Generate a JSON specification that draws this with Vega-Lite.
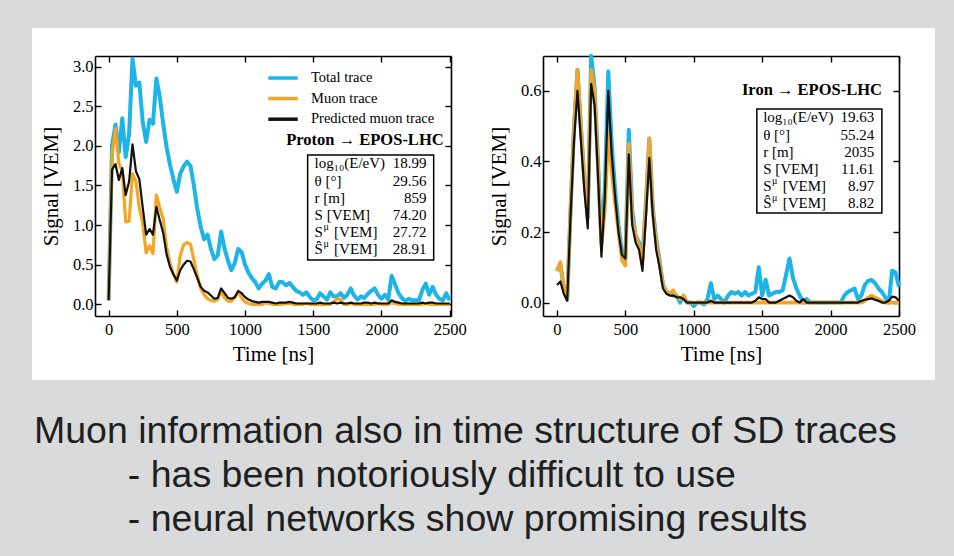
{
  "$schema": "https://vega.github.io/schema/vega-lite/v6.json",
  "width": 903,
  "height": 352,
  "autosize": {"type": "none"},
  "padding": {"left": 32, "top": 28, "right": 19, "bottom": 176},
  "background": "#d9dadc",
  "config": {
    "view": {"fill": "white", "stroke": null},
    "font": "Liberation Serif",
    "axis": {
      "grid": false, "domainColor": "#000", "domainWidth": 1.6,
      "tickColor": "#000", "tickWidth": 1.4, "tickSize": -6,
      "labelFont": "Liberation Serif", "labelFontSize": 16.5, "labelColor": "#000",
      "labelFlush": false, "labelOverlap": false,
      "titleFont": "Liberation Serif", "titleFontSize": 21, "titleFontWeight": "normal", "titleColor": "#000",
      "zindex": 1
    },
    "line": {"strokeJoin": "round"}
  },
  "title": {
    "text": [
      "Muon information also in time structure of SD traces",
      "\u200b\u00a0\u00a0\u00a0\u00a0\u00a0\u00a0\u00a0\u00a0\u00a0- has been notoriously difficult to use",
      "\u200b\u00a0\u00a0\u00a0\u00a0\u00a0\u00a0\u00a0\u00a0\u00a0- neural networks show promising results"
    ],
    "orient": "bottom", "anchor": "start", "frame": "group",
    "font": "Liberation Sans", "fontSize": 37.5, "fontWeight": "normal", "color": "#1f1f1f",
    "lineHeight": 44, "offset": 33, "dx": 2
  },
  "datasets": {
    "proton": [
      {"t":0,"s":"Total trace","v":0.05},{"t":25,"s":"Total trace","v":2.00},{"t":50,"s":"Total trace","v":2.27},{"t":75,"s":"Total trace","v":1.92},{"t":100,"s":"Total trace","v":2.35},{"t":125,"s":"Total trace","v":1.86},{"t":150,"s":"Total trace","v":2.15},{"t":175,"s":"Total trace","v":3.10},{"t":200,"s":"Total trace","v":2.76},{"t":225,"s":"Total trace","v":2.80},{"t":250,"s":"Total trace","v":2.30},{"t":275,"s":"Total trace","v":2.05},{"t":300,"s":"Total trace","v":2.33},{"t":325,"s":"Total trace","v":2.28},{"t":350,"s":"Total trace","v":2.85},{"t":375,"s":"Total trace","v":2.62},{"t":400,"s":"Total trace","v":2.28},{"t":425,"s":"Total trace","v":1.98},{"t":450,"s":"Total trace","v":1.76},{"t":475,"s":"Total trace","v":1.58},{"t":500,"s":"Total trace","v":1.42},{"t":525,"s":"Total trace","v":1.65},{"t":550,"s":"Total trace","v":1.74},{"t":575,"s":"Total trace","v":1.80},{"t":600,"s":"Total trace","v":1.75},{"t":625,"s":"Total trace","v":1.50},{"t":650,"s":"Total trace","v":1.20},{"t":675,"s":"Total trace","v":0.98},{"t":700,"s":"Total trace","v":0.82},{"t":725,"s":"Total trace","v":0.88},{"t":750,"s":"Total trace","v":0.70},{"t":775,"s":"Total trace","v":0.57},{"t":800,"s":"Total trace","v":0.62},{"t":825,"s":"Total trace","v":0.92},{"t":850,"s":"Total trace","v":0.70},{"t":875,"s":"Total trace","v":0.55},{"t":900,"s":"Total trace","v":0.43},{"t":925,"s":"Total trace","v":0.52},{"t":950,"s":"Total trace","v":0.70},{"t":975,"s":"Total trace","v":0.66},{"t":1000,"s":"Total trace","v":0.50},{"t":1025,"s":"Total trace","v":0.40},{"t":1050,"s":"Total trace","v":0.33},{"t":1075,"s":"Total trace","v":0.28},{"t":1100,"s":"Total trace","v":0.20},{"t":1125,"s":"Total trace","v":0.26},{"t":1150,"s":"Total trace","v":0.30},{"t":1175,"s":"Total trace","v":0.38},{"t":1200,"s":"Total trace","v":0.22},{"t":1225,"s":"Total trace","v":0.20},{"t":1250,"s":"Total trace","v":0.28},{"t":1275,"s":"Total trace","v":0.28},{"t":1300,"s":"Total trace","v":0.24},{"t":1325,"s":"Total trace","v":0.27},{"t":1350,"s":"Total trace","v":0.22},{"t":1375,"s":"Total trace","v":0.17},{"t":1400,"s":"Total trace","v":0.15},{"t":1425,"s":"Total trace","v":0.12},{"t":1450,"s":"Total trace","v":0.15},{"t":1475,"s":"Total trace","v":0.09},{"t":1500,"s":"Total trace","v":0.05},{"t":1525,"s":"Total trace","v":0.06},{"t":1550,"s":"Total trace","v":0.14},{"t":1575,"s":"Total trace","v":0.10},{"t":1600,"s":"Total trace","v":0.06},{"t":1625,"s":"Total trace","v":0.15},{"t":1650,"s":"Total trace","v":0.10},{"t":1675,"s":"Total trace","v":0.10},{"t":1700,"s":"Total trace","v":0.14},{"t":1725,"s":"Total trace","v":0.08},{"t":1750,"s":"Total trace","v":0.12},{"t":1775,"s":"Total trace","v":0.20},{"t":1800,"s":"Total trace","v":0.11},{"t":1825,"s":"Total trace","v":0.06},{"t":1850,"s":"Total trace","v":0.10},{"t":1875,"s":"Total trace","v":0.08},{"t":1900,"s":"Total trace","v":0.13},{"t":1925,"s":"Total trace","v":0.17},{"t":1950,"s":"Total trace","v":0.20},{"t":1975,"s":"Total trace","v":0.12},{"t":2000,"s":"Total trace","v":0.07},{"t":2025,"s":"Total trace","v":0.12},{"t":2050,"s":"Total trace","v":0.06},{"t":2075,"s":"Total trace","v":0.36},{"t":2100,"s":"Total trace","v":0.25},{"t":2125,"s":"Total trace","v":0.14},{"t":2150,"s":"Total trace","v":0.08},{"t":2175,"s":"Total trace","v":0.04},{"t":2200,"s":"Total trace","v":0.07},{"t":2225,"s":"Total trace","v":0.05},{"t":2250,"s":"Total trace","v":0.05},{"t":2275,"s":"Total trace","v":0.05},{"t":2300,"s":"Total trace","v":0.18},{"t":2325,"s":"Total trace","v":0.26},{"t":2350,"s":"Total trace","v":0.12},{"t":2375,"s":"Total trace","v":0.22},{"t":2400,"s":"Total trace","v":0.12},{"t":2425,"s":"Total trace","v":0.07},{"t":2450,"s":"Total trace","v":0.05},{"t":2475,"s":"Total trace","v":0.14},{"t":2500,"s":"Total trace","v":0.05},
      {"t":0,"s":"Muon trace","v":0.05},{"t":25,"s":"Muon trace","v":1.88},{"t":50,"s":"Muon trace","v":2.22},{"t":75,"s":"Muon trace","v":1.78},{"t":100,"s":"Muon trace","v":1.68},{"t":125,"s":"Muon trace","v":1.04},{"t":150,"s":"Muon trace","v":1.05},{"t":175,"s":"Muon trace","v":1.65},{"t":200,"s":"Muon trace","v":1.55},{"t":225,"s":"Muon trace","v":1.22},{"t":250,"s":"Muon trace","v":1.02},{"t":275,"s":"Muon trace","v":0.65},{"t":300,"s":"Muon trace","v":0.74},{"t":325,"s":"Muon trace","v":0.64},{"t":350,"s":"Muon trace","v":1.38},{"t":375,"s":"Muon trace","v":1.22},{"t":400,"s":"Muon trace","v":1.08},{"t":425,"s":"Muon trace","v":0.72},{"t":450,"s":"Muon trace","v":0.52},{"t":475,"s":"Muon trace","v":0.38},{"t":500,"s":"Muon trace","v":0.28},{"t":525,"s":"Muon trace","v":0.62},{"t":550,"s":"Muon trace","v":0.75},{"t":575,"s":"Muon trace","v":0.78},{"t":600,"s":"Muon trace","v":0.76},{"t":625,"s":"Muon trace","v":0.56},{"t":650,"s":"Muon trace","v":0.36},{"t":675,"s":"Muon trace","v":0.20},{"t":700,"s":"Muon trace","v":0.12},{"t":725,"s":"Muon trace","v":0.07},{"t":750,"s":"Muon trace","v":0.05},{"t":775,"s":"Muon trace","v":0.04},{"t":800,"s":"Muon trace","v":0.06},{"t":825,"s":"Muon trace","v":0.17},{"t":850,"s":"Muon trace","v":0.08},{"t":875,"s":"Muon trace","v":0.04},{"t":900,"s":"Muon trace","v":0.04},{"t":925,"s":"Muon trace","v":0.09},{"t":950,"s":"Muon trace","v":0.15},{"t":975,"s":"Muon trace","v":0.08},{"t":1000,"s":"Muon trace","v":0.03},{"t":1025,"s":"Muon trace","v":0.01},{"t":1050,"s":"Muon trace","v":0.00},{"t":1075,"s":"Muon trace","v":0.00},{"t":1100,"s":"Muon trace","v":0.00},{"t":1125,"s":"Muon trace","v":0.00},{"t":1150,"s":"Muon trace","v":0.02},{"t":1175,"s":"Muon trace","v":0.01},{"t":1200,"s":"Muon trace","v":0.00},{"t":1225,"s":"Muon trace","v":0.00},{"t":1250,"s":"Muon trace","v":0.00},{"t":1275,"s":"Muon trace","v":0.00},{"t":1300,"s":"Muon trace","v":0.01},{"t":1325,"s":"Muon trace","v":0.01},{"t":1350,"s":"Muon trace","v":0.00},{"t":1375,"s":"Muon trace","v":0.00},{"t":1400,"s":"Muon trace","v":0.00},{"t":1425,"s":"Muon trace","v":0.00},{"t":1450,"s":"Muon trace","v":0.01},{"t":1475,"s":"Muon trace","v":0.00},{"t":1500,"s":"Muon trace","v":0.00},{"t":1525,"s":"Muon trace","v":0.00},{"t":1550,"s":"Muon trace","v":0.00},{"t":1575,"s":"Muon trace","v":0.00},{"t":1600,"s":"Muon trace","v":0.00},{"t":1625,"s":"Muon trace","v":0.00},{"t":1650,"s":"Muon trace","v":0.03},{"t":1675,"s":"Muon trace","v":0.07},{"t":1700,"s":"Muon trace","v":0.06},{"t":1725,"s":"Muon trace","v":0.00},{"t":1750,"s":"Muon trace","v":0.00},{"t":1775,"s":"Muon trace","v":0.01},{"t":1800,"s":"Muon trace","v":0.00},{"t":1825,"s":"Muon trace","v":0.00},{"t":1850,"s":"Muon trace","v":0.00},{"t":1875,"s":"Muon trace","v":0.00},{"t":1900,"s":"Muon trace","v":0.00},{"t":1925,"s":"Muon trace","v":0.00},{"t":1950,"s":"Muon trace","v":0.00},{"t":1975,"s":"Muon trace","v":0.01},{"t":2000,"s":"Muon trace","v":0.00},{"t":2025,"s":"Muon trace","v":0.00},{"t":2050,"s":"Muon trace","v":0.00},{"t":2075,"s":"Muon trace","v":0.02},{"t":2100,"s":"Muon trace","v":0.01},{"t":2125,"s":"Muon trace","v":0.00},{"t":2150,"s":"Muon trace","v":0.00},{"t":2175,"s":"Muon trace","v":0.00},{"t":2200,"s":"Muon trace","v":0.00},{"t":2225,"s":"Muon trace","v":0.00},{"t":2250,"s":"Muon trace","v":0.00},{"t":2275,"s":"Muon trace","v":0.00},{"t":2300,"s":"Muon trace","v":0.00},{"t":2325,"s":"Muon trace","v":0.01},{"t":2350,"s":"Muon trace","v":0.00},{"t":2375,"s":"Muon trace","v":0.00},{"t":2400,"s":"Muon trace","v":0.00},{"t":2425,"s":"Muon trace","v":0.00},{"t":2450,"s":"Muon trace","v":0.00},{"t":2475,"s":"Muon trace","v":0.00},{"t":2500,"s":"Muon trace","v":0.00},
      {"t":0,"s":"Predicted muon trace","v":0.05},{"t":25,"s":"Predicted muon trace","v":1.70},{"t":50,"s":"Predicted muon trace","v":1.77},{"t":75,"s":"Predicted muon trace","v":1.57},{"t":100,"s":"Predicted muon trace","v":1.72},{"t":125,"s":"Predicted muon trace","v":1.38},{"t":150,"s":"Predicted muon trace","v":1.55},{"t":175,"s":"Predicted muon trace","v":2.02},{"t":200,"s":"Predicted muon trace","v":1.68},{"t":225,"s":"Predicted muon trace","v":1.58},{"t":250,"s":"Predicted muon trace","v":1.22},{"t":275,"s":"Predicted muon trace","v":0.88},{"t":300,"s":"Predicted muon trace","v":0.95},{"t":325,"s":"Predicted muon trace","v":0.88},{"t":350,"s":"Predicted muon trace","v":1.23},{"t":375,"s":"Predicted muon trace","v":1.06},{"t":400,"s":"Predicted muon trace","v":0.90},{"t":425,"s":"Predicted muon trace","v":0.63},{"t":450,"s":"Predicted muon trace","v":0.47},{"t":475,"s":"Predicted muon trace","v":0.38},{"t":500,"s":"Predicted muon trace","v":0.30},{"t":525,"s":"Predicted muon trace","v":0.43},{"t":550,"s":"Predicted muon trace","v":0.50},{"t":575,"s":"Predicted muon trace","v":0.55},{"t":600,"s":"Predicted muon trace","v":0.54},{"t":625,"s":"Predicted muon trace","v":0.44},{"t":650,"s":"Predicted muon trace","v":0.33},{"t":675,"s":"Predicted muon trace","v":0.22},{"t":700,"s":"Predicted muon trace","v":0.17},{"t":725,"s":"Predicted muon trace","v":0.15},{"t":750,"s":"Predicted muon trace","v":0.11},{"t":775,"s":"Predicted muon trace","v":0.07},{"t":800,"s":"Predicted muon trace","v":0.08},{"t":825,"s":"Predicted muon trace","v":0.20},{"t":850,"s":"Predicted muon trace","v":0.14},{"t":875,"s":"Predicted muon trace","v":0.08},{"t":900,"s":"Predicted muon trace","v":0.07},{"t":925,"s":"Predicted muon trace","v":0.09},{"t":950,"s":"Predicted muon trace","v":0.17},{"t":975,"s":"Predicted muon trace","v":0.14},{"t":1000,"s":"Predicted muon trace","v":0.09},{"t":1025,"s":"Predicted muon trace","v":0.06},{"t":1050,"s":"Predicted muon trace","v":0.04},{"t":1075,"s":"Predicted muon trace","v":0.03},{"t":1100,"s":"Predicted muon trace","v":0.02},{"t":1125,"s":"Predicted muon trace","v":0.03},{"t":1150,"s":"Predicted muon trace","v":0.03},{"t":1175,"s":"Predicted muon trace","v":0.03},{"t":1200,"s":"Predicted muon trace","v":0.02},{"t":1225,"s":"Predicted muon trace","v":0.01},{"t":1250,"s":"Predicted muon trace","v":0.02},{"t":1275,"s":"Predicted muon trace","v":0.02},{"t":1300,"s":"Predicted muon trace","v":0.02},{"t":1325,"s":"Predicted muon trace","v":0.03},{"t":1350,"s":"Predicted muon trace","v":0.02},{"t":1375,"s":"Predicted muon trace","v":0.01},{"t":1400,"s":"Predicted muon trace","v":0.01},{"t":1425,"s":"Predicted muon trace","v":0.01},{"t":1450,"s":"Predicted muon trace","v":0.01},{"t":1475,"s":"Predicted muon trace","v":0.01},{"t":1500,"s":"Predicted muon trace","v":0.01},{"t":1525,"s":"Predicted muon trace","v":0.01},{"t":1550,"s":"Predicted muon trace","v":0.02},{"t":1575,"s":"Predicted muon trace","v":0.01},{"t":1600,"s":"Predicted muon trace","v":0.01},{"t":1625,"s":"Predicted muon trace","v":0.01},{"t":1650,"s":"Predicted muon trace","v":0.02},{"t":1675,"s":"Predicted muon trace","v":0.01},{"t":1700,"s":"Predicted muon trace","v":0.02},{"t":1725,"s":"Predicted muon trace","v":0.01},{"t":1750,"s":"Predicted muon trace","v":0.01},{"t":1775,"s":"Predicted muon trace","v":0.02},{"t":1800,"s":"Predicted muon trace","v":0.01},{"t":1825,"s":"Predicted muon trace","v":0.01},{"t":1850,"s":"Predicted muon trace","v":0.01},{"t":1875,"s":"Predicted muon trace","v":0.02},{"t":1900,"s":"Predicted muon trace","v":0.02},{"t":1925,"s":"Predicted muon trace","v":0.01},{"t":1950,"s":"Predicted muon trace","v":0.02},{"t":1975,"s":"Predicted muon trace","v":0.01},{"t":2000,"s":"Predicted muon trace","v":0.01},{"t":2025,"s":"Predicted muon trace","v":0.01},{"t":2050,"s":"Predicted muon trace","v":0.01},{"t":2075,"s":"Predicted muon trace","v":0.05},{"t":2100,"s":"Predicted muon trace","v":0.03},{"t":2125,"s":"Predicted muon trace","v":0.02},{"t":2150,"s":"Predicted muon trace","v":0.01},{"t":2175,"s":"Predicted muon trace","v":0.01},{"t":2200,"s":"Predicted muon trace","v":0.01},{"t":2225,"s":"Predicted muon trace","v":0.01},{"t":2250,"s":"Predicted muon trace","v":0.01},{"t":2275,"s":"Predicted muon trace","v":0.01},{"t":2300,"s":"Predicted muon trace","v":0.02},{"t":2325,"s":"Predicted muon trace","v":0.01},{"t":2350,"s":"Predicted muon trace","v":0.02},{"t":2375,"s":"Predicted muon trace","v":0.02},{"t":2400,"s":"Predicted muon trace","v":0.01},{"t":2425,"s":"Predicted muon trace","v":0.01},{"t":2450,"s":"Predicted muon trace","v":0.01},{"t":2475,"s":"Predicted muon trace","v":0.01},{"t":2500,"s":"Predicted muon trace","v":0.01}
    ],
    "iron": [
      {"t":0,"s":"Total trace","v":0.09},{"t":25,"s":"Total trace","v":0.11},{"t":50,"s":"Total trace","v":0.04},{"t":75,"s":"Total trace","v":0.01},{"t":100,"s":"Total trace","v":0.27},{"t":125,"s":"Total trace","v":0.50},{"t":150,"s":"Total trace","v":0.66},{"t":175,"s":"Total trace","v":0.50},{"t":200,"s":"Total trace","v":0.35},{"t":225,"s":"Total trace","v":0.24},{"t":250,"s":"Total trace","v":0.70},{"t":275,"s":"Total trace","v":0.61},{"t":300,"s":"Total trace","v":0.40},{"t":325,"s":"Total trace","v":0.17},{"t":350,"s":"Total trace","v":0.32},{"t":375,"s":"Total trace","v":0.655},{"t":400,"s":"Total trace","v":0.45},{"t":425,"s":"Total trace","v":0.32},{"t":450,"s":"Total trace","v":0.22},{"t":475,"s":"Total trace","v":0.14},{"t":500,"s":"Total trace","v":0.125},{"t":525,"s":"Total trace","v":0.49},{"t":550,"s":"Total trace","v":0.26},{"t":575,"s":"Total trace","v":0.19},{"t":600,"s":"Total trace","v":0.17},{"t":625,"s":"Total trace","v":0.13},{"t":650,"s":"Total trace","v":0.28},{"t":675,"s":"Total trace","v":0.465},{"t":700,"s":"Total trace","v":0.27},{"t":725,"s":"Total trace","v":0.18},{"t":750,"s":"Total trace","v":0.12},{"t":775,"s":"Total trace","v":0.05},{"t":800,"s":"Total trace","v":0.03},{"t":825,"s":"Total trace","v":0.025},{"t":850,"s":"Total trace","v":0.02},{"t":875,"s":"Total trace","v":0.02},{"t":900,"s":"Total trace","v":0.00},{"t":925,"s":"Total trace","v":0.02},{"t":950,"s":"Total trace","v":0.00},{"t":975,"s":"Total trace","v":0.00},{"t":1000,"s":"Total trace","v":-0.01},{"t":1025,"s":"Total trace","v":0.00},{"t":1050,"s":"Total trace","v":0.00},{"t":1075,"s":"Total trace","v":-0.005},{"t":1100,"s":"Total trace","v":0.01},{"t":1125,"s":"Total trace","v":0.055},{"t":1150,"s":"Total trace","v":0.01},{"t":1175,"s":"Total trace","v":0.02},{"t":1200,"s":"Total trace","v":0.01},{"t":1225,"s":"Total trace","v":0.00},{"t":1250,"s":"Total trace","v":0.02},{"t":1275,"s":"Total trace","v":0.03},{"t":1300,"s":"Total trace","v":0.025},{"t":1325,"s":"Total trace","v":0.03},{"t":1350,"s":"Total trace","v":0.02},{"t":1375,"s":"Total trace","v":0.03},{"t":1400,"s":"Total trace","v":0.02},{"t":1425,"s":"Total trace","v":0.025},{"t":1450,"s":"Total trace","v":0.03},{"t":1475,"s":"Total trace","v":0.10},{"t":1500,"s":"Total trace","v":0.02},{"t":1525,"s":"Total trace","v":0.065},{"t":1550,"s":"Total trace","v":0.02},{"t":1575,"s":"Total trace","v":0.025},{"t":1600,"s":"Total trace","v":0.03},{"t":1625,"s":"Total trace","v":0.03},{"t":1650,"s":"Total trace","v":0.035},{"t":1675,"s":"Total trace","v":0.08},{"t":1700,"s":"Total trace","v":0.125},{"t":1725,"s":"Total trace","v":0.07},{"t":1750,"s":"Total trace","v":0.04},{"t":1775,"s":"Total trace","v":0.02},{"t":1800,"s":"Total trace","v":0.00},{"t":1825,"s":"Total trace","v":0.01},{"t":1850,"s":"Total trace","v":0.00},{"t":1875,"s":"Total trace","v":0.00},{"t":1900,"s":"Total trace","v":0.00},{"t":1925,"s":"Total trace","v":0.00},{"t":1950,"s":"Total trace","v":0.00},{"t":1975,"s":"Total trace","v":0.00},{"t":2000,"s":"Total trace","v":0.00},{"t":2025,"s":"Total trace","v":0.00},{"t":2050,"s":"Total trace","v":0.00},{"t":2075,"s":"Total trace","v":0.00},{"t":2100,"s":"Total trace","v":0.02},{"t":2125,"s":"Total trace","v":0.03},{"t":2150,"s":"Total trace","v":0.035},{"t":2175,"s":"Total trace","v":0.04},{"t":2200,"s":"Total trace","v":0.01},{"t":2225,"s":"Total trace","v":0.02},{"t":2250,"s":"Total trace","v":0.05},{"t":2275,"s":"Total trace","v":0.062},{"t":2300,"s":"Total trace","v":0.064},{"t":2325,"s":"Total trace","v":0.055},{"t":2350,"s":"Total trace","v":0.04},{"t":2375,"s":"Total trace","v":0.03},{"t":2400,"s":"Total trace","v":0.015},{"t":2425,"s":"Total trace","v":0.00},{"t":2450,"s":"Total trace","v":0.09},{"t":2475,"s":"Total trace","v":0.085},{"t":2500,"s":"Total trace","v":0.045},
      {"t":0,"s":"Muon trace","v":0.09},{"t":25,"s":"Muon trace","v":0.115},{"t":50,"s":"Muon trace","v":0.04},{"t":75,"s":"Muon trace","v":0.01},{"t":100,"s":"Muon trace","v":0.27},{"t":125,"s":"Muon trace","v":0.50},{"t":150,"s":"Muon trace","v":0.66},{"t":175,"s":"Muon trace","v":0.50},{"t":200,"s":"Muon trace","v":0.35},{"t":225,"s":"Muon trace","v":0.25},{"t":250,"s":"Muon trace","v":0.66},{"t":275,"s":"Muon trace","v":0.60},{"t":300,"s":"Muon trace","v":0.38},{"t":325,"s":"Muon trace","v":0.16},{"t":350,"s":"Muon trace","v":0.26},{"t":375,"s":"Muon trace","v":0.48},{"t":400,"s":"Muon trace","v":0.37},{"t":425,"s":"Muon trace","v":0.28},{"t":450,"s":"Muon trace","v":0.20},{"t":475,"s":"Muon trace","v":0.12},{"t":500,"s":"Muon trace","v":0.105},{"t":525,"s":"Muon trace","v":0.45},{"t":550,"s":"Muon trace","v":0.24},{"t":575,"s":"Muon trace","v":0.19},{"t":600,"s":"Muon trace","v":0.16},{"t":625,"s":"Muon trace","v":0.12},{"t":650,"s":"Muon trace","v":0.27},{"t":675,"s":"Muon trace","v":0.465},{"t":700,"s":"Muon trace","v":0.26},{"t":725,"s":"Muon trace","v":0.17},{"t":750,"s":"Muon trace","v":0.11},{"t":775,"s":"Muon trace","v":0.05},{"t":800,"s":"Muon trace","v":0.03},{"t":825,"s":"Muon trace","v":0.025},{"t":850,"s":"Muon trace","v":0.035},{"t":875,"s":"Muon trace","v":0.015},{"t":900,"s":"Muon trace","v":0.01},{"t":925,"s":"Muon trace","v":0.02},{"t":950,"s":"Muon trace","v":0.00},{"t":975,"s":"Muon trace","v":0.00},{"t":1000,"s":"Muon trace","v":0.00},{"t":1025,"s":"Muon trace","v":0.00},{"t":1050,"s":"Muon trace","v":0.00},{"t":1075,"s":"Muon trace","v":0.00},{"t":1100,"s":"Muon trace","v":0.00},{"t":1125,"s":"Muon trace","v":0.00},{"t":1150,"s":"Muon trace","v":0.00},{"t":1175,"s":"Muon trace","v":0.00},{"t":1200,"s":"Muon trace","v":0.00},{"t":1225,"s":"Muon trace","v":0.00},{"t":1250,"s":"Muon trace","v":0.00},{"t":1275,"s":"Muon trace","v":0.00},{"t":1300,"s":"Muon trace","v":0.00},{"t":1325,"s":"Muon trace","v":0.00},{"t":1350,"s":"Muon trace","v":0.00},{"t":1375,"s":"Muon trace","v":0.00},{"t":1400,"s":"Muon trace","v":0.00},{"t":1425,"s":"Muon trace","v":0.00},{"t":1450,"s":"Muon trace","v":0.00},{"t":1475,"s":"Muon trace","v":0.00},{"t":1500,"s":"Muon trace","v":0.00},{"t":1525,"s":"Muon trace","v":0.00},{"t":1550,"s":"Muon trace","v":0.00},{"t":1575,"s":"Muon trace","v":0.00},{"t":1600,"s":"Muon trace","v":0.00},{"t":1625,"s":"Muon trace","v":0.00},{"t":1650,"s":"Muon trace","v":0.00},{"t":1675,"s":"Muon trace","v":0.00},{"t":1700,"s":"Muon trace","v":0.00},{"t":1725,"s":"Muon trace","v":0.00},{"t":1750,"s":"Muon trace","v":0.00},{"t":1775,"s":"Muon trace","v":0.00},{"t":1800,"s":"Muon trace","v":0.00},{"t":1825,"s":"Muon trace","v":0.00},{"t":1850,"s":"Muon trace","v":0.00},{"t":1875,"s":"Muon trace","v":0.00},{"t":1900,"s":"Muon trace","v":0.00},{"t":1925,"s":"Muon trace","v":0.00},{"t":1950,"s":"Muon trace","v":0.00},{"t":1975,"s":"Muon trace","v":0.00},{"t":2000,"s":"Muon trace","v":0.00},{"t":2025,"s":"Muon trace","v":0.00},{"t":2050,"s":"Muon trace","v":0.00},{"t":2075,"s":"Muon trace","v":0.00},{"t":2100,"s":"Muon trace","v":0.00},{"t":2125,"s":"Muon trace","v":0.00},{"t":2150,"s":"Muon trace","v":0.00},{"t":2175,"s":"Muon trace","v":0.00},{"t":2200,"s":"Muon trace","v":0.00},{"t":2225,"s":"Muon trace","v":0.00},{"t":2250,"s":"Muon trace","v":0.005},{"t":2275,"s":"Muon trace","v":0.015},{"t":2300,"s":"Muon trace","v":0.02},{"t":2325,"s":"Muon trace","v":0.015},{"t":2350,"s":"Muon trace","v":0.01},{"t":2375,"s":"Muon trace","v":0.005},{"t":2400,"s":"Muon trace","v":0.00},{"t":2425,"s":"Muon trace","v":0.00},{"t":2450,"s":"Muon trace","v":0.00},{"t":2475,"s":"Muon trace","v":0.00},{"t":2500,"s":"Muon trace","v":0.00},
      {"t":0,"s":"Predicted muon trace","v":0.05},{"t":25,"s":"Predicted muon trace","v":0.06},{"t":50,"s":"Predicted muon trace","v":0.025},{"t":75,"s":"Predicted muon trace","v":0.005},{"t":100,"s":"Predicted muon trace","v":0.25},{"t":125,"s":"Predicted muon trace","v":0.46},{"t":150,"s":"Predicted muon trace","v":0.60},{"t":175,"s":"Predicted muon trace","v":0.46},{"t":200,"s":"Predicted muon trace","v":0.32},{"t":225,"s":"Predicted muon trace","v":0.21},{"t":250,"s":"Predicted muon trace","v":0.62},{"t":275,"s":"Predicted muon trace","v":0.56},{"t":300,"s":"Predicted muon trace","v":0.36},{"t":325,"s":"Predicted muon trace","v":0.13},{"t":350,"s":"Predicted muon trace","v":0.30},{"t":375,"s":"Predicted muon trace","v":0.60},{"t":400,"s":"Predicted muon trace","v":0.42},{"t":425,"s":"Predicted muon trace","v":0.30},{"t":450,"s":"Predicted muon trace","v":0.20},{"t":475,"s":"Predicted muon trace","v":0.135},{"t":500,"s":"Predicted muon trace","v":0.125},{"t":525,"s":"Predicted muon trace","v":0.42},{"t":550,"s":"Predicted muon trace","v":0.22},{"t":575,"s":"Predicted muon trace","v":0.17},{"t":600,"s":"Predicted muon trace","v":0.15},{"t":625,"s":"Predicted muon trace","v":0.09},{"t":650,"s":"Predicted muon trace","v":0.24},{"t":675,"s":"Predicted muon trace","v":0.41},{"t":700,"s":"Predicted muon trace","v":0.25},{"t":725,"s":"Predicted muon trace","v":0.15},{"t":750,"s":"Predicted muon trace","v":0.10},{"t":775,"s":"Predicted muon trace","v":0.04},{"t":800,"s":"Predicted muon trace","v":0.025},{"t":825,"s":"Predicted muon trace","v":0.02},{"t":850,"s":"Predicted muon trace","v":0.02},{"t":875,"s":"Predicted muon trace","v":0.015},{"t":900,"s":"Predicted muon trace","v":0.015},{"t":925,"s":"Predicted muon trace","v":0.01},{"t":950,"s":"Predicted muon trace","v":0.00},{"t":975,"s":"Predicted muon trace","v":0.00},{"t":1000,"s":"Predicted muon trace","v":0.00},{"t":1025,"s":"Predicted muon trace","v":0.00},{"t":1050,"s":"Predicted muon trace","v":0.00},{"t":1075,"s":"Predicted muon trace","v":0.00},{"t":1100,"s":"Predicted muon trace","v":0.00},{"t":1125,"s":"Predicted muon trace","v":0.005},{"t":1150,"s":"Predicted muon trace","v":0.00},{"t":1175,"s":"Predicted muon trace","v":0.00},{"t":1200,"s":"Predicted muon trace","v":0.00},{"t":1225,"s":"Predicted muon trace","v":0.00},{"t":1250,"s":"Predicted muon trace","v":0.00},{"t":1275,"s":"Predicted muon trace","v":0.00},{"t":1300,"s":"Predicted muon trace","v":0.00},{"t":1325,"s":"Predicted muon trace","v":0.00},{"t":1350,"s":"Predicted muon trace","v":0.00},{"t":1375,"s":"Predicted muon trace","v":0.00},{"t":1400,"s":"Predicted muon trace","v":0.00},{"t":1425,"s":"Predicted muon trace","v":0.00},{"t":1450,"s":"Predicted muon trace","v":0.005},{"t":1475,"s":"Predicted muon trace","v":0.015},{"t":1500,"s":"Predicted muon trace","v":0.01},{"t":1525,"s":"Predicted muon trace","v":0.01},{"t":1550,"s":"Predicted muon trace","v":0.00},{"t":1575,"s":"Predicted muon trace","v":0.00},{"t":1600,"s":"Predicted muon trace","v":0.00},{"t":1625,"s":"Predicted muon trace","v":0.005},{"t":1650,"s":"Predicted muon trace","v":0.01},{"t":1675,"s":"Predicted muon trace","v":0.015},{"t":1700,"s":"Predicted muon trace","v":0.02},{"t":1725,"s":"Predicted muon trace","v":0.015},{"t":1750,"s":"Predicted muon trace","v":0.005},{"t":1775,"s":"Predicted muon trace","v":0.00},{"t":1800,"s":"Predicted muon trace","v":0.01},{"t":1825,"s":"Predicted muon trace","v":0.00},{"t":1850,"s":"Predicted muon trace","v":0.00},{"t":1875,"s":"Predicted muon trace","v":0.00},{"t":1900,"s":"Predicted muon trace","v":0.00},{"t":1925,"s":"Predicted muon trace","v":0.00},{"t":1950,"s":"Predicted muon trace","v":0.00},{"t":1975,"s":"Predicted muon trace","v":0.00},{"t":2000,"s":"Predicted muon trace","v":0.00},{"t":2025,"s":"Predicted muon trace","v":0.00},{"t":2050,"s":"Predicted muon trace","v":0.00},{"t":2075,"s":"Predicted muon trace","v":0.00},{"t":2100,"s":"Predicted muon trace","v":0.00},{"t":2125,"s":"Predicted muon trace","v":0.00},{"t":2150,"s":"Predicted muon trace","v":0.00},{"t":2175,"s":"Predicted muon trace","v":0.00},{"t":2200,"s":"Predicted muon trace","v":0.00},{"t":2225,"s":"Predicted muon trace","v":0.005},{"t":2250,"s":"Predicted muon trace","v":0.008},{"t":2275,"s":"Predicted muon trace","v":0.01},{"t":2300,"s":"Predicted muon trace","v":0.012},{"t":2325,"s":"Predicted muon trace","v":0.008},{"t":2350,"s":"Predicted muon trace","v":0.005},{"t":2375,"s":"Predicted muon trace","v":0.00},{"t":2400,"s":"Predicted muon trace","v":0.00},{"t":2425,"s":"Predicted muon trace","v":0.005},{"t":2450,"s":"Predicted muon trace","v":0.017},{"t":2475,"s":"Predicted muon trace","v":0.015},{"t":2500,"s":"Predicted muon trace","v":0.005}
    ],
    "protonInfo": [
      {"k":0,"label":"log₁₀(E/eV)","unit":"","value":"18.99"},
      {"k":1,"label":"θ [°]","unit":"","value":"29.56"},
      {"k":2,"label":"r [m]","unit":"","value":"859"},
      {"k":3,"label":"S [VEM]","unit":"","value":"74.20"},
      {"k":4,"label":"S","unit":"[VEM]","value":"27.72"},
      {"k":5,"label":"Ŝ","unit":"[VEM]","value":"28.91"}
    ],
    "ironInfo": [
      {"k":0,"label":"log₁₀(E/eV)","unit":"","value":"19.63"},
      {"k":1,"label":"θ [°]","unit":"","value":"55.24"},
      {"k":2,"label":"r [m]","unit":"","value":"2035"},
      {"k":3,"label":"S [VEM]","unit":"","value":"11.61"},
      {"k":4,"label":"S","unit":"[VEM]","value":"8.97"},
      {"k":5,"label":"Ŝ","unit":"[VEM]","value":"8.82"}
    ]
  },
  "layer": [
    {
      "layer": [
        {
          "data": {"name": "proton"},
          "layer": [
            {
              "transform": [{"filter": "datum.s === 'Total trace'"}],
              "mark": {"type": "line", "strokeWidth": 4},
              "encoding": {
                "x": {"field": "t", "type": "quantitative",
                  "scale": {"domain": [-100, 2510], "range": [63, 419], "nice": false, "zero": false},
                  "axis": {"orient": "bottom", "offset": -64, "values": [0, 500, 1000, 1500, 2000, 2500], "format": "d", "title": "Time [ns]", "labelPadding": 11, "titlePadding": 6}},
                "y": {"field": "v", "type": "quantitative",
                  "scale": {"domain": [-0.148, 3.135], "range": [288, 28], "nice": false, "zero": false},
                  "axis": {"orient": "left", "offset": -63, "values": [0, 0.5, 1, 1.5, 2, 2.5, 3], "format": ".1f", "title": "Signal [VEM]", "labelPadding": 8, "titlePadding": 11}},
                "color": {"field": "s", "type": "nominal",
                  "scale": {"domain": ["Total trace", "Muon trace", "Predicted muon trace"], "range": ["#1db4e8", "#f5a524", "#111111"]},
                  "legend": {"orient": "none", "legendX": 242, "legendY": 41, "title": null, "padding": 0,
                    "symbolType": "M-2.1,0H2.1", "symbolSize": 196, "symbolStrokeWidth": 3.5, "labelOffset": 19, "rowPadding": 4.6,
                    "labelFont": "Liberation Serif", "labelFontSize": 14.5, "labelColor": "#000"}}
              }
            },
            {
              "transform": [{"filter": "datum.s === 'Muon trace'"}],
              "mark": {"type": "line", "strokeWidth": 3.2},
              "encoding": {
                "x": {"field": "t", "type": "quantitative", "axis": null},
                "y": {"field": "v", "type": "quantitative", "axis": null},
                "color": {"field": "s", "type": "nominal"}
              }
            },
            {
              "transform": [{"filter": "datum.s === 'Predicted muon trace'"}],
              "mark": {"type": "line", "strokeWidth": 2.2},
              "encoding": {
                "x": {"field": "t", "type": "quantitative", "axis": null},
                "y": {"field": "v", "type": "quantitative", "axis": null},
                "color": {"field": "s", "type": "nominal"}
              }
            },
            {
              "data": {"values": [{}]},
              "mark": {"type": "rect", "filled": false, "stroke": "#000", "strokeWidth": 1.5},
              "encoding": {
                "x": {"datum": 1459, "type": "quantitative",
                  "axis": {"orient": "top", "offset": -28, "values": [0, 500, 1000, 1500, 2000, 2500], "labels": false, "title": null}},
                "x2": {"datum": 2383},
                "y": {"datum": 1.885, "type": "quantitative",
                  "axis": {"orient": "right", "offset": -484, "values": [0, 0.5, 1, 1.5, 2, 2.5, 3], "labels": false, "title": null}},
                "y2": {"datum": 0.559}
              }
            },
            {
              "data": {"values": [{}]},
              "mark": {"type": "text", "align": "right", "baseline": "alphabetic", "font": "Liberation Serif", "fontSize": 16.5, "fontWeight": "bold", "color": "#000"},
              "encoding": {
                "x": {"datum": 2456, "type": "quantitative", "axis": null},
                "y": {"datum": 2.011, "type": "quantitative", "axis": null},
                "text": {"value": "Proton → EPOS-LHC"}
              }
            }
          ],
          "resolve": {"axis": {"x": "independent", "y": "independent"}}
        },
        {
          "data": {"name": "protonInfo"},
          "encoding": {
            "y": {"field": "k", "type": "quantitative", "axis": null,
              "scale": {"domain": [0, 5], "range": [135.3, 221.3], "nice": false, "zero": false}}
          },
          "layer": [
            {
              "mark": {"type": "text", "align": "left", "baseline": "middle", "font": "Liberation Serif", "fontSize": 15, "color": "#000"},
              "encoding": {"x": {"datum": 1510, "type": "quantitative", "axis": null}, "text": {"field": "label"}}
            },
            {
              "transform": [{"filter": "datum.k >= 4"}],
              "mark": {"type": "text", "align": "left", "baseline": "middle", "font": "Liberation Serif", "fontSize": 15, "dx": 19.5, "color": "#000"},
              "encoding": {"x": {"datum": 1510, "type": "quantitative", "axis": null}, "text": {"field": "unit"}}
            },
            {
              "mark": {"type": "text", "align": "right", "baseline": "middle", "font": "Liberation Serif", "fontSize": 15, "color": "#000"},
              "encoding": {"x": {"datum": 2331, "type": "quantitative", "axis": null}, "text": {"field": "value"}}
            },
            {
              "transform": [{"filter": "datum.k >= 4"}],
              "mark": {"type": "text", "align": "left", "baseline": "middle", "font": "Liberation Serif", "fontSize": 10, "dx": 8.8, "dy": -5, "color": "#000"},
              "encoding": {"x": {"datum": 1510, "type": "quantitative", "axis": null}, "text": {"value": "μ"}}
            }
          ]
        }
      ],
      "resolve": {"scale": {"y": "independent"}}
    },
    {
      "layer": [
        {
          "data": {"name": "iron"},
          "layer": [
            {
              "transform": [{"filter": "datum.s === 'Total trace'"}],
              "mark": {"type": "line", "strokeWidth": 4},
              "encoding": {
                "x": {"field": "t", "type": "quantitative",
                  "scale": {"domain": [-102, 2500], "range": [511, 867], "nice": false, "zero": false},
                  "axis": {"orient": "bottom", "offset": -64, "values": [0, 500, 1000, 1500, 2000, 2500], "format": "d", "title": "Time [ns]", "labelPadding": 11, "titlePadding": 6}},
                "y": {"field": "v", "type": "quantitative",
                  "scale": {"domain": [-0.038, 0.699], "range": [288, 28], "nice": false, "zero": false},
                  "axis": {"orient": "left", "offset": -511, "values": [0, 0.2, 0.4, 0.6], "format": ".1f", "title": "Signal [VEM]", "labelPadding": 8, "titlePadding": 11}},
                "color": {"field": "s", "type": "nominal"}
              }
            },
            {
              "transform": [{"filter": "datum.s === 'Muon trace'"}],
              "mark": {"type": "line", "strokeWidth": 3.6},
              "encoding": {
                "x": {"field": "t", "type": "quantitative", "axis": null},
                "y": {"field": "v", "type": "quantitative", "axis": null},
                "color": {"field": "s", "type": "nominal"}
              }
            },
            {
              "transform": [{"filter": "datum.s === 'Predicted muon trace'"}],
              "mark": {"type": "line", "strokeWidth": 2.2},
              "encoding": {
                "x": {"field": "t", "type": "quantitative", "axis": null},
                "y": {"field": "v", "type": "quantitative", "axis": null},
                "color": {"field": "s", "type": "nominal"}
              }
            },
            {
              "data": {"values": [{}]},
              "mark": {"type": "rect", "filled": false, "stroke": "#000", "strokeWidth": 1.5},
              "encoding": {
                "x": {"datum": 1461, "type": "quantitative",
                  "axis": {"orient": "top", "offset": -28, "values": [0, 500, 1000, 1500, 2000, 2500], "labels": false, "title": null}},
                "x2": {"datum": 2375},
                "y": {"datum": 0.549, "type": "quantitative",
                  "axis": {"orient": "right", "offset": -36, "values": [0, 0.2, 0.4, 0.6], "labels": false, "title": null}},
                "y2": {"datum": 0.254}
              }
            },
            {
              "data": {"values": [{}]},
              "mark": {"type": "text", "align": "right", "baseline": "alphabetic", "font": "Liberation Serif", "fontSize": 16.5, "fontWeight": "bold", "color": "#000"},
              "encoding": {
                "x": {"datum": 2375, "type": "quantitative", "axis": null},
                "y": {"datum": 0.589, "type": "quantitative", "axis": null},
                "text": {"value": "Iron → EPOS-LHC"}
              }
            }
          ],
          "resolve": {"axis": {"x": "independent", "y": "independent"}}
        },
        {
          "data": {"name": "ironInfo"},
          "encoding": {
            "y": {"field": "k", "type": "quantitative", "axis": null,
              "scale": {"domain": [0, 5], "range": [89.3, 175.3], "nice": false, "zero": false}}
          },
          "layer": [
            {
              "mark": {"type": "text", "align": "left", "baseline": "middle", "font": "Liberation Serif", "fontSize": 15, "color": "#000"},
              "encoding": {"x": {"datum": 1507, "type": "quantitative", "axis": null}, "text": {"field": "label"}}
            },
            {
              "transform": [{"filter": "datum.k >= 4"}],
              "mark": {"type": "text", "align": "left", "baseline": "middle", "font": "Liberation Serif", "fontSize": 15, "dx": 19.5, "color": "#000"},
              "encoding": {"x": {"datum": 1507, "type": "quantitative", "axis": null}, "text": {"field": "unit"}}
            },
            {
              "mark": {"type": "text", "align": "right", "baseline": "middle", "font": "Liberation Serif", "fontSize": 15, "color": "#000"},
              "encoding": {"x": {"datum": 2319, "type": "quantitative", "axis": null}, "text": {"field": "value"}}
            },
            {
              "transform": [{"filter": "datum.k >= 4"}],
              "mark": {"type": "text", "align": "left", "baseline": "middle", "font": "Liberation Serif", "fontSize": 10, "dx": 8.8, "dy": -5, "color": "#000"},
              "encoding": {"x": {"datum": 1507, "type": "quantitative", "axis": null}, "text": {"value": "μ"}}
            }
          ]
        }
      ],
      "resolve": {"scale": {"y": "independent"}}
    }
  ],
  "resolve": {"scale": {"x": "independent", "y": "independent"}}
}
